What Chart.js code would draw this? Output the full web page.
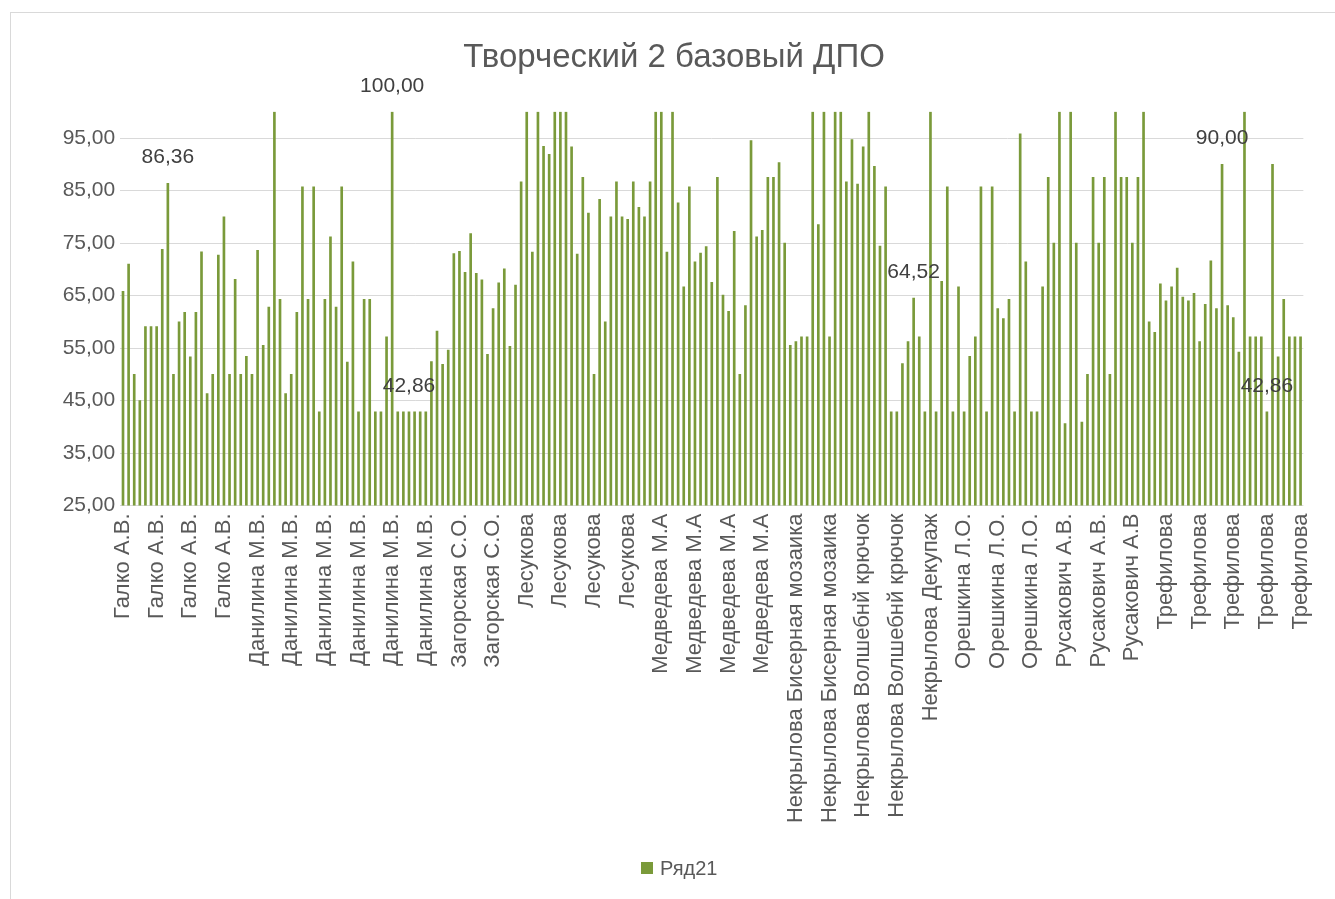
<!DOCTYPE html>
<html><head><meta charset="utf-8">
<script src="https://cdn.jsdelivr.net/npm/chart.js@4.4.1/dist/chart.umd.min.js"></script>
<style>
html,body{margin:0;padding:0;background:#fff;}
#wrap{position:relative;width:1335px;height:899px;overflow:hidden;background:#fff;}
#frame{position:absolute;left:10px;top:12px;width:1400px;height:1000px;border:1px solid #d9d9d9;box-sizing:border-box;}
canvas{position:absolute;left:0;top:0;}
</style></head><body>
<div id="wrap"><div id="frame"></div><canvas id="c" width="1335" height="899"></canvas></div>
<script>
// ---- data ----
const chartTitle = 'Творческий 2 базовый ДПО';
const seriesName = 'Ряд21';
const groupNames = ['Галко А.В.', 'Данилина М.В.', 'Загорская С.О.', 'Лесукова', 'Медведева М.А',
  'Некрылова Бисерная мозаика', 'Некрылова Волшебнй крючок', 'Некрылова Декупаж', 'Орешкина Л.О.',
  'Русакович А.В.', 'Русакович А.В', 'Трефилова'];
const groupSizes = [24, 36, 12, 24, 24, 12, 12, 6, 18, 12, 6, 25];
const values = [
  65.8, 71, 50, 45, 59.09, 59.09, 59.09, 73.8, 86.36, 50, 60, 61.8, 53.3, 61.8, 73.3, 46.3, 50, 72.7,
  80, 50, 68.1, 50, 53.4, 50, 73.6, 55.5, 62.8, 100, 64.29, 46.3, 50, 61.8, 85.71, 64.29, 85.71, 42.86, 64.29, 76.19,
  62.8, 85.71, 52.3, 71.43, 42.86, 64.29, 64.29, 42.86, 42.86, 57.14, 100, 42.86, 42.86, 42.86, 42.86, 42.86, 42.86, 52.4, 58.2,
  51.9, 54.6, 73, 73.4, 69.4, 76.8, 69.2, 68, 53.8, 62.5, 67.4, 70.1, 55.3, 67, 86.67, 100, 73.25, 100, 93.4, 91.9,
  100, 100, 100, 93.33, 72.9, 87.5, 80.7, 50, 83.3, 60, 80, 86.67, 80, 79.5, 86.67, 81.8, 80, 86.67, 100,
  100, 73.25, 100, 82.65, 66.67, 85.71, 71.43, 73.1, 74.3, 67.5, 87.5, 65.1, 62, 77.2, 50, 63.1, 94.5, 76.19, 77.4, 87.5,
  87.5, 90.3, 75, 55.5, 56.2, 57.14, 57.14, 100, 78.5, 100, 57.14, 100, 100, 86.67, 94.7, 86.2, 93.33, 100, 89.6,
  74.4, 85.71, 42.86, 42.86, 52.05, 56.2, 64.52, 57.14, 42.86, 100, 42.86, 67.7, 85.71, 42.86, 66.67, 42.86, 53.4, 57.14, 85.71,
  42.86, 85.71, 62.5, 60.6, 64.29, 42.86, 95.8, 71.43, 42.86, 42.86, 66.67, 87.5, 75, 100, 40.6, 100, 75, 40.9, 50, 87.5,
  75, 87.5, 50, 100, 87.5, 87.5, 75, 87.5, 100, 60, 58, 67.2, 64, 66.67, 70.2, 64.7, 64, 65.4, 56.2,
  63.3, 71.6, 62.5, 90, 63.1, 60.8, 54.2, 100, 57.14, 57.14, 57.14, 42.86, 90, 53.3, 64.29, 57.14, 57.14, 57.14
];
const labeledIdx = [8, 48, 51, 141, 196, 204];
const yTicks = [25, 35, 45, 55, 65, 75, 85, 95];
const labelEvery = 6;

const categories = [];
groupNames.forEach((n, g) => { for (let k = 0; k < groupSizes[g]; k++) categories.push(n); });

const FONT = '"Liberation Sans", Arial, sans-serif';
const BAR = '#7A9A3A';
const fmt = v => v.toFixed(2).replace('.', ',');

const decor = {
  id: 'decor',
  afterDatasetsDraw(chart) {
    const ctx = chart.ctx, meta = chart.getDatasetMeta(0), ys = chart.scales.y;
    ctx.save();
    ctx.font = '21px ' + FONT;
    ctx.fillStyle = '#404040';
    ctx.textAlign = 'center';
    ctx.textBaseline = 'middle';
    labeledIdx.forEach(i => {
      const x = meta.data[i].x;
      const y = ys.getPixelForValue(values[i]) - 26;
      ctx.fillText(fmt(values[i]), x, y);
    });
    ctx.restore();
  },
  afterDraw(chart) {
    const ctx = chart.ctx;
    ctx.save();
    ctx.fillStyle = '#595959';
    ctx.font = '33px ' + FONT;
    ctx.textAlign = 'center';
    ctx.textBaseline = 'middle';
    ctx.fillText(chartTitle, 674, 58);
    ctx.fillStyle = BAR;
    ctx.fillRect(641, 862, 12, 12);
    ctx.fillStyle = '#595959';
    ctx.font = '20px ' + FONT;
    ctx.textAlign = 'left';
    ctx.fillText(seriesName, 660, 869);
    ctx.restore();
  }
};

new Chart(document.getElementById('c'), {
  type: 'bar',
  data: {
    labels: categories,
    datasets: [{ label: seriesName, data: values, backgroundColor: BAR, barThickness: 2, borderWidth: 0 }]
  },
  options: {
    responsive: false,
    animation: false,
    devicePixelRatio: 1,
    layout: { padding: { left: 0, right: 19.5, top: 111.75, bottom: 0 } },
    plugins: { legend: { display: false }, title: { display: false }, tooltip: { enabled: false } },
    scales: {
      x: {
        grid: { display: false, drawTicks: false },
        border: { display: false },
        ticks: {
          autoSkip: false, minRotation: 90, maxRotation: 90, padding: 8,
          color: '#595959', font: { family: FONT, size: 22 },
          callback: (v, i) => (i % labelEvery === 0 ? categories[i] : '')
        },
        afterFit: s => { s.height = 393.5; }
      },
      y: {
        min: 25, max: 100,
        afterBuildTicks: s => { s.ticks = yTicks.map(v => ({ value: v })); },
        afterFit: s => { s.width = 120.2; },
        grid: { color: '#d9d9d9', lineWidth: 1, drawTicks: false },
        border: { display: false },
        ticks: { padding: 5, color: '#595959', font: { family: FONT, size: 21 }, callback: v => fmt(v) }
      }
    }
  },
  plugins: [decor]
});
</script>
</body></html>
